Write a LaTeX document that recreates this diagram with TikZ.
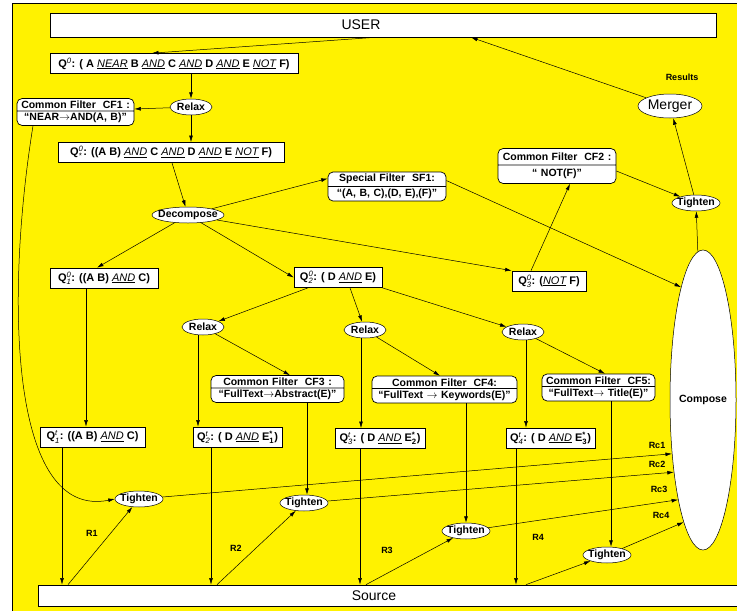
\documentclass[tikz,border=0pt]{standalone}
\usepackage{amsmath}
\usepackage{fontspec}
\setmainfont{Liberation Sans}
\usetikzlibrary{shapes.geometric,shapes.multipart,arrows.meta}
\newcommand{\op}[1]{\underline{\mdseries\itshape #1}}
\newcommand{\Qi}[2]{Q$^{\textit{\mdseries #1}}_{\textit{\mdseries #2}}$}
\newcommand{\Es}[1]{E$^{\text{*}}_{\text{#1}}$}
\begin{document}
\begin{tikzpicture}[x=1pt,y=-1pt,line width=0.5pt,
  every node/.style={font=\bfseries\fontsize{10.5}{12}\selectfont},
  qbox/.style={draw,fill=white,line width=0.7pt,minimum height=20,inner sep=2pt,font=\bfseries\fontsize{11}{13}\selectfont},
  filt/.style={draw,fill=white,line width=0.7pt,rounded corners=5pt,rectangle split,rectangle split parts=2,align=center,inner ysep=2pt,inner xsep=2pt},
  oval/.style={ellipse,draw,fill=white,inner sep=0pt,minimum height=16,
    execute at begin node={\hbox to 0pt\bgroup\hss},execute at end node={\hss\egroup}},
  lbl/.style={font=\bfseries\fontsize{9}{10}\selectfont},
  arr/.style={-{Latex[length=6.5pt,width=3.8pt]}}]
\useasboundingbox (0,0) rectangle (737,611);
\fill[yellow] (12,3) rectangle (737,611);
\draw[line width=1pt] (12,611) -- (12,3) -- (737,3);
\node[qbox,minimum width=666,minimum height=24,text width=660,align=center,font=\fontsize{14}{16}\selectfont] (user) at (383,25) {\hspace*{-44pt}USER};
\node[qbox,minimum width=248] (q0) at (174,63.5) {Q$^{\textit{\mdseries 0}}$: ( A \op{NEAR} B \op{AND} C \op{AND} D \op{AND} E \op{NOT} F)};
\node[oval,minimum width=42] (relax1) at (191,107) {Relax};
\node[filt,text width=113] (cf1) at (75.5,112) {Common Filter\ \ CF1 :\nodepart{two}“NEAR$\to$AND(A, B)”};
\node[qbox,minimum width=226] (q0s) at (171,152.5) {\Qi{0}{*}: ((A B) \op{AND} C \op{AND} D \op{AND} E \op{NOT} F)};
\node[oval,minimum width=72] (dec) at (188,215) {Decompose};
\node[filt,text width=114] (sf1) at (387,186.5) {Special Filter\ \ SF1:\nodepart{two}“(A,\ B,\ C),(D,\ E),(F)”};
\node[filt,text width=114,inner ysep=4pt] (cf2) at (557,166) {Common Filter\ \ CF2 :\nodepart{two}“ NOT(F)”};
\node[oval,minimum width=64,minimum height=24,font=\fontsize{14}{16}\selectfont] (merger) at (670,106) {Merger};
\node[lbl] (res) at (682,77) {Results};
\node[oval,minimum width=48] (tgt0) at (696,203) {Tighten};
\node[oval,minimum width=66,minimum height=300] (comp) at (703,400) {Compose};
\node[qbox,minimum width=108] (q10) at (104,278) {\Qi{0}{1}: ((A B) \op{AND} C)};
\node[qbox,minimum width=88] (q20) at (338,277.5) {\Qi{0}{2}: ( D \op{AND} E)};
\node[qbox,minimum width=74] (q30) at (549,281) {\Qi{0}{3}: (\op{NOT} F)};
\node[oval,minimum width=42] (relax2) at (203,327) {Relax};
\node[oval,minimum width=42] (relax3) at (365,330) {Relax};
\node[oval,minimum width=42] (relax4) at (523,332) {Relax};
\node[filt,text width=129] (cf3) at (277.5,389) {Common Filter\ \ CF3 :\nodepart{two}“FullText$\to$Abstract(E)”};
\node[filt,text width=141] (cf4) at (444.5,389.5) {Common Filter\ \ CF4:\nodepart{two}“FullText $\to$ Keywords(E)”};
\node[filt,text width=109] (cf5) at (598.5,387.5) {Common Filter\ \ CF5:\nodepart{two}“FullText$\to$ Title(E)”};
\node[qbox,minimum width=105] (q1t) at (92.5,437) {\Qi{t}{1}: ((A B) \op{AND} C)};
\node[qbox,minimum width=89] (q2t) at (237.5,437) {\Qi{t}{2}: ( D \op{AND} \Es{1})};
\node[qbox,minimum width=90] (q3t) at (380,438.5) {\Qi{t}{3}: ( D \op{AND} \Es{2})};
\node[qbox,minimum width=89] (q4t) at (550.5,438) {\Qi{t}{4}: ( D \op{AND} \Es{3})};
\node[oval,minimum width=48] (tgt1) at (139,499) {Tighten};
\node[oval,minimum width=48] (tgt2) at (304,503) {Tighten};
\node[oval,minimum width=48] (tgt3) at (466,531) {Tighten};
\node[oval,minimum width=48] (tgt4) at (607,555) {Tighten};
\node[qbox,minimum width=710,minimum height=21,text width=704,align=center,font=\fontsize{14}{16}\selectfont] (src) at (393,595.5) {\hspace*{-38pt}Source};
\node[lbl] (r1) at (92,533) {R1};
\node[lbl] (r2) at (236,548) {R2};
\node[lbl] (r3) at (387,550) {R3};
\node[lbl] (r4) at (538,537) {R4};
\node[lbl] (rc1) at (657,445) {Rc1};
\node[lbl] (rc2) at (657,464) {Rc2};
\node[lbl] (rc3) at (659,489) {Rc3};
\node[lbl] (rc4) at (661,515) {Rc4};
\draw[arr] (user.south -| 375,0) -- ([xshift=-22pt]q0.north);
\draw[arr] (merger) -- (user.south -| 471,0);
\draw[arr] (tgt0) -- (merger);
\draw[arr] (comp.92) -- (tgt0);
\draw[arr] ([yshift=-5pt]cf2.east) -- (tgt0);
\draw[arr] ([xshift=-18pt]q30.north) -- ([xshift=13pt]cf2.south);
\draw[arr] (q0.south -| relax1.north) -- (relax1);
\draw[arr] (relax1) -- ([yshift=3pt]cf1.east);
\draw[arr] (relax1) -- (q0s.north -| relax1);
\draw[arr] (q0s.south -| 172,0) -- (dec);
\draw[arr] (dec) -- ([yshift=8pt]sf1.west);
\draw[arr] ([yshift=6pt]sf1.east) -- (comp.101);
\draw[arr] (dec) -- ([xshift=-7pt]q10.north);
\draw[arr] (dec) -- (q20.west);
\draw[arr] (dec) -- (q30.north west);
\draw[arr] (q20.south -| 308,0) -- (relax2);
\draw[arr] (q20.south -| 350,0) -- (relax3);
\draw[arr] (q20.south east) -- (relax4);
\draw[arr] (relax2.south -| 198,0) -- (q2t.north -| 198,0);
\draw[arr] (relax2) -- ([xshift=12.5pt]cf3.north);
\draw[arr] (relax3.south -| 361,0) -- (q3t.north -| 361,0);
\draw[arr] (relax3) -- ([xshift=-4.5pt]cf4.north);
\draw[arr] (relax4.south -| 526,0) -- (q4t.north -| 526,0);
\draw[arr] (relax4) -- ([xshift=6.5pt]cf5.north);
\draw[arr] (q10.south -| 86,0) -- (q1t.north -| 86,0);
\draw[arr] (cf1.south -| 33,0) .. controls (5,300) and (10,520) .. (tgt1.west);
\draw[arr] (cf3.south -| 307,0) -- (tgt2.north -| 307,0);
\draw[arr] (cf4.south -| tgt3) -- (tgt3);
\draw[arr] (cf5.south -| 611,0) -- (tgt4.north -| 611,0);
\draw[arr] (q1t.south -| 62,0) -- (src.north -| 62,0);
\draw[arr] (q2t.south -| 211,0) -- (src.north -| 211,0);
\draw[arr] (q3t.south -| 360,0) -- (src.north -| 360,0);
\draw[arr] (q4t.south -| 516,0) -- (src.north -| 516,0);
\draw[arr] (src.north -| 68,0) -- (tgt1);
\draw[arr] (src.north -| 217,0) -- (tgt2);
\draw[arr] (src.north -| 366,0) -- (tgt3);
\draw[arr] (src.north -| 526,0) -- (tgt4);
\draw[arr] (tgt1) -- (comp.240);
\draw[arr] (tgt2) -- (comp.248);
\draw[arr] (tgt3) -- (comp.256);
\draw[arr] (tgt4) -- (comp.261);
\end{tikzpicture}
\end{document}
